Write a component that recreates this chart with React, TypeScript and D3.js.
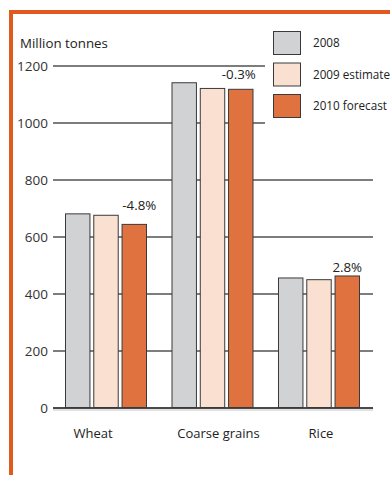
import React from "react";
import * as d3 from "d3";

// Cereal production, million tonnes
const categories = ["Wheat", "Coarse grains", "Rice"];
const seriesNames = ["2008", "2009 estimate", "2010 forecast"];
const values2008 = [683, 1143, 458];
const values2009 = [678, 1123, 452];
const values2010 = [646, 1120, 465];
const changeLabels = ["-4.8%", "-0.3%", "2.8%"];
const yTicks = [0, 200, 400, 600, 800, 1000, 1200];

const seriesValues = [values2008, values2009, values2010];
const seriesColors = ["#d1d2d4", "#fae0d0", "#e07240"];

const W = 390;
const H = 477;

export default function App() {
  const y = d3.scaleLinear().domain([0, 1200]).range([408, 66]);
  const x0 = d3
    .scaleBand<string>()
    .domain(categories)
    .range([65, 360])
    .paddingInner(0.23)
    .paddingOuter(0);
  const x1 = d3
    .scaleBand<string>()
    .domain(seriesNames)
    .range([0, x0.bandwidth()])
    .paddingInner(0.1);

  const legendX = 273;
  const legendY = 31;
  const legendStep = 31.5;
  const legendBottom = legendY + legendStep * seriesNames.length;
  const font = "'Open Sans', 'DejaVu Sans', sans-serif";
  const labelDx = [-13, 6, 2];
  const changeDx = [5, -2, 0];

  return (
    <svg
      width={W}
      height={H}
      style={{ position: "absolute", left: 0, top: 0, background: "#fff" }}
      fontFamily={font}
    >
      {/* frame */}
      <rect x={9} y={10} width={W} height={4} fill="#e05a1e" />
      <rect x={9} y={10} width={4} height={H - 12} fill="#e05a1e" />

      <text x={20} y={48} fontSize={13.3} fill="#222">
        Million tonnes
      </text>

      {/* grid lines and tick labels */}
      {yTicks.map((t) => {
        const yy = y(t);
        const x2 = yy < legendBottom ? 265 : 373;
        return (
          <g key={t}>
            <line
              x1={53}
              x2={x2}
              y1={yy}
              y2={yy}
              stroke={t === 0 ? "#4a4a4a" : "#7d7d7d"}
              strokeWidth={t === 0 ? 2.2 : 1.8}
            />
            <text
              x={48}
              y={yy}
              dy="0.35em"
              textAnchor="end"
              fontSize={13.5}
              fill="#333"
            >
              {t}
            </text>
          </g>
        );
      })}
      <line x1={53} x2={373} y1={y(0) + 2} y2={y(0) + 2} stroke="#d8d8d8" strokeWidth={1.5} />

      {/* bars */}
      {categories.map((c, i) => (
        <g key={c} transform={`translate(${x0(c)},0)`}>
          {seriesNames.map((s, j) => {
            const v = seriesValues[j][i];
            return (
              <rect
                key={s}
                x={x1(s)! + 0.5}
                y={y(v) + 0.5}
                width={x1.bandwidth() - 1}
                height={y(0) - y(v) - 1}
                fill={seriesColors[j]}
                stroke="#3a3a3a"
                strokeWidth={1}
              />
            );
          })}
          <text
            x={x1(seriesNames[2])! + x1.bandwidth() / 2 + changeDx[i]}
            y={y(Math.max(...seriesValues.map((sv) => sv[i]))) - 3}
            textAnchor="middle"
            fontSize={13.3}
            fill="#222"
          >
            {changeLabels[i]}
          </text>
          <text
            x={x0.bandwidth() / 2 + labelDx[i]}
            y={438}
            textAnchor="middle"
            fontSize={13}
            fill="#222"
          >
            {c}
          </text>
        </g>
      ))}

      {/* legend */}
      {seriesNames.map((s, j) => (
        <g key={s} transform={`translate(${legendX},${legendY + j * legendStep})`}>
          <rect
            x={0.5}
            y={0.5}
            width={27}
            height={23}
            fill={seriesColors[j]}
            stroke="#3a3a3a"
            strokeWidth={1}
          />
          <text x={40} y={12} dy="0.35em" fontSize={11.7} fill="#222">
            {s}
          </text>
        </g>
      ))}
    </svg>
  );
}
